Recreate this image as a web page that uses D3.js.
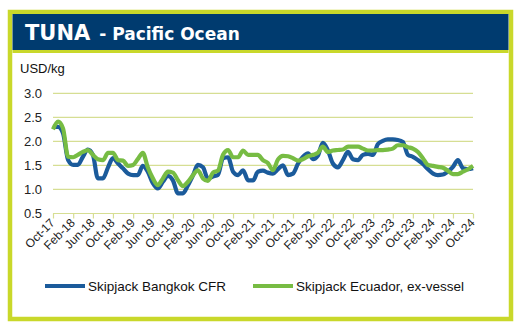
<!DOCTYPE html>
<html><head><meta charset="utf-8">
<script src="https://cdn.jsdelivr.net/npm/d3@7"></script>
<style>html,body{margin:0;padding:0;background:#fff;}svg{display:block;}</style>
</head><body>
<svg id="c" width="526" height="326"></svg>
<script>
const startMonth = "2017-10";
const tickLabels = ["Oct-17","Feb-18","Jun-18","Oct-18","Feb-19","Jun-19","Oct-19","Feb-20","Jun-20","Oct-20","Feb-21","Jun-21","Oct-21","Feb-22","Jun-22","Oct-22","Feb-23","Jun-23","Oct-23","Feb-24","Jun-24","Oct-24"];
const yTicks = [0.5,1.0,1.5,2.0,2.5,3.0];
const seriesNames = ["Skipjack Bangkok CFR","Skipjack Ecuador, ex-vessel"];
const bangkok = [2.30,2.30,2.17,1.61,1.51,1.51,1.68,1.83,1.72,1.23,1.23,1.46,1.65,1.54,1.44,1.33,1.30,1.30,1.49,1.37,1.13,1.02,1.16,1.28,1.19,0.92,0.92,1.09,1.30,1.51,1.46,1.23,1.27,1.30,1.65,1.67,1.37,1.30,1.40,1.19,1.19,1.37,1.39,1.35,1.33,1.42,1.50,1.30,1.33,1.54,1.68,1.75,1.63,1.70,1.97,1.82,1.54,1.46,1.61,1.78,1.63,1.61,1.72,1.74,1.72,1.94,2.01,2.04,2.04,2.03,1.99,1.72,1.68,1.61,1.53,1.42,1.33,1.30,1.31,1.37,1.47,1.61,1.44,1.42,1.44];
const ecuador = [2.25,2.41,2.27,1.68,1.67,1.72,1.78,1.82,1.72,1.63,1.61,1.76,1.76,1.61,1.60,1.49,1.51,1.63,1.76,1.46,1.23,1.09,1.23,1.37,1.35,1.19,1.07,1.16,1.30,1.40,1.23,1.18,1.35,1.39,1.72,1.82,1.67,1.67,1.81,1.72,1.72,1.72,1.61,1.55,1.40,1.62,1.70,1.69,1.65,1.60,1.63,1.69,1.72,1.76,1.89,1.78,1.81,1.82,1.83,1.89,1.89,1.89,1.85,1.81,1.81,1.82,1.82,1.83,1.85,1.92,1.92,1.88,1.85,1.78,1.65,1.51,1.49,1.47,1.45,1.39,1.32,1.32,1.37,1.42,1.49];

const colors = {blue:"#1b5b9b", green:"#77bc43", band:"#003b6f", lime:"#c9d82a", grid:"#d6de93"};
const svg = d3.select("#c");

// frame
svg.append("rect").attr("x",10).attr("y",12).attr("width",501).attr("height",307)
  .attr("fill","#fff").attr("stroke",colors.lime).attr("stroke-width",4.5);
svg.append("rect").attr("x",12.5).attr("y",14).attr("width",496).attr("height",36).attr("fill",colors.band);
svg.append("rect").attr("x",12.5).attr("y",50).attr("width",496).attr("height",3).attr("fill",colors.lime);
const title = svg.append("text").attr("x",25).attr("y",40).attr("fill","#fff")
  .attr("font-family","'DejaVu Sans', Verdana, sans-serif").attr("font-weight","bold");
title.append("tspan").attr("font-size",21).text("TUNA");
title.append("tspan").attr("font-size",17).attr("dx",9).text("- Pacific Ocean");

const parse = d3.timeParse("%Y-%m");
const t0 = parse(startMonth);
const dates = bangkok.map((_,i)=>d3.timeMonth.offset(t0,i));
const x = d3.scaleTime().domain([dates[0],dates[dates.length-1]]).range([53,473]);
const y = d3.scaleLinear().domain([0.5,3.0]).range([213.5,93.3]);

const font = "'Liberation Sans', Arial, sans-serif";
// gridlines
svg.append("g").selectAll("line").data(yTicks.slice(1)).join("line")
  .attr("x1",53).attr("x2",473).attr("y1",d=>y(d)).attr("y2",d=>y(d))
  .attr("stroke",colors.grid).attr("stroke-width",1.2);
// y labels
svg.append("g").selectAll("text").data(yTicks).join("text")
  .attr("x",42).attr("y",d=>y(d)+4.5).attr("text-anchor","end")
  .attr("font-family",font).attr("font-size",13).attr("fill","#222").text(d=>d.toFixed(1));
svg.append("text").attr("x",20).attr("y",73).attr("font-family",font).attr("font-size",13).attr("fill","#111").text("USD/kg");

// x axis
const tickDates = tickLabels.map((_,k)=>d3.timeMonth.offset(t0,k*4));
const xAxis = d3.axisBottom(x).tickValues(tickDates).tickSize(5).tickFormat((d,k)=>tickLabels[k]);
const gx = svg.append("g").attr("transform","translate(0,213.5)").call(xAxis);
gx.select(".domain").attr("stroke",colors.grid).attr("stroke-width",1.2).attr("d","M53,0H473");
gx.selectAll(".tick line").attr("stroke",colors.grid).attr("stroke-width",1.2);
gx.selectAll(".tick text").attr("font-family",font).attr("font-size",12).attr("fill","#222")
  .attr("text-anchor","end").attr("dy",null).attr("y",0)
  .attr("transform","translate(2,10) rotate(-45)");

const line = d3.line().x((d,i)=>x(dates[i])).y(d=>y(d)).curve(d3.curveMonotoneX);
svg.append("path").datum(bangkok).attr("d",line).attr("fill","none").attr("stroke",colors.blue).attr("stroke-width",4.2).attr("stroke-linejoin","round");
svg.append("path").datum(ecuador).attr("d",line).attr("fill","none").attr("stroke",colors.green).attr("stroke-width",4.2).attr("stroke-linejoin","round");

// legend
const leg = [{n:seriesNames[0],c:colors.blue,x:45},{n:seriesNames[1],c:colors.green,x:253}];
const lg = svg.append("g").selectAll("g").data(leg).join("g");
lg.append("line").attr("x1",d=>d.x).attr("x2",d=>d.x+40).attr("y1",286).attr("y2",286).attr("stroke",d=>d.c).attr("stroke-width",4);
lg.append("text").attr("x",d=>d.x+43).attr("y",290.5).attr("font-family",font).attr("font-size",13.5).attr("fill","#111").text(d=>d.n);
</script>
</body></html>
